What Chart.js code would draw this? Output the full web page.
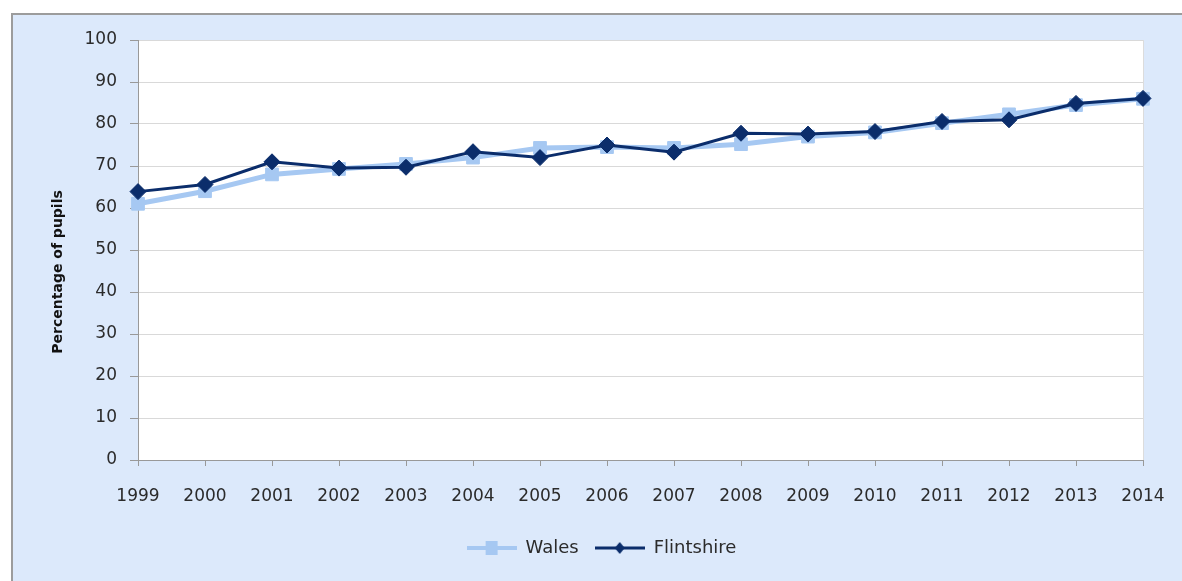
<!DOCTYPE html>
<html>
<head>
<meta charset="utf-8">
<script src="https://cdn.jsdelivr.net/npm/chart.js@4/dist/chart.umd.min.js"></script>
<style>
  html, body { margin: 0; padding: 0; background: #ffffff; overflow: hidden; }
  #frame { position: absolute; left: 11px; top: 13px; width: 1200px; height: 600px;
           background: #dce9fb; border-left: 2px solid #9c9c9c; border-top: 2px solid #9c9c9c; }
  #wrap { position: absolute; left: 0; top: 0; width: 1182px; height: 581px; }
</style>
</head>
<body>
<div id="frame"></div>
<div id="wrap"><canvas id="c" width="1182" height="581"></canvas></div>
<script>
const years = ['1999','2000','2001','2002','2003','2004','2005','2006','2007','2008','2009','2010','2011','2012','2013','2014'];
const wales = [61, 64, 68, 69.3, 70.5, 72, 74.3, 74.5, 74.3, 75.2, 77, 78, 80.2, 82.3, 84.5, 86];
const flintshire = [63.9, 65.6, 71, 69.5, 69.7, 73.4, 72, 75, 73.3, 77.8, 77.6, 78.2, 80.6, 81, 84.9, 86.1];
const yTicks = [0, 10, 20, 30, 40, 50, 60, 70, 80, 90, 100];
const seriesNames = ['Wales', 'Flintshire'];

const WALES_COLOR = '#a6c8f2';
const FLINT_COLOR = '#0b2d6b';
const TEXT_COLOR = '#2b2b2b';
const FONT = 'DejaVu Sans';

function legendImage(kind) {
  const cv = document.createElement('canvas');
  cv.width = 50; cv.height = 18;
  const g = cv.getContext('2d');
  if (kind === 'wales') {
    g.strokeStyle = WALES_COLOR; g.lineWidth = 4;
    g.beginPath(); g.moveTo(0, 9); g.lineTo(50, 9); g.stroke();
    g.fillStyle = WALES_COLOR; g.fillRect(19, 2, 12, 14);
  } else {
    g.strokeStyle = FLINT_COLOR; g.lineWidth = 3;
    g.beginPath(); g.moveTo(0, 9); g.lineTo(50, 9); g.stroke();
    g.fillStyle = FLINT_COLOR;
    g.beginPath(); g.moveTo(25, 3); g.lineTo(30, 9); g.lineTo(25, 15); g.lineTo(20, 9); g.closePath(); g.fill();
  }
  return cv;
}

const plotBg = {
  id: 'plotBg',
  beforeDraw(chart) {
    const a = chart.chartArea, ctx = chart.ctx;
    ctx.save();
    ctx.fillStyle = '#ffffff';
    ctx.fillRect(a.left, a.top, a.right - a.left, a.bottom - a.top);
    ctx.strokeStyle = '#dcdcdc'; ctx.lineWidth = 1;
    ctx.beginPath(); ctx.moveTo(a.right + 0.5, a.top); ctx.lineTo(a.right + 0.5, a.bottom); ctx.stroke();
    ctx.restore();
  },
  afterLayout(chart) {
    chart.legend.left += 30;
    chart.legend.right += 30;
  }
};

new Chart(document.getElementById('c'), {
  type: 'line',
  data: {
    labels: years,
    datasets: [
      {
        label: seriesNames[0], data: wales, order: 2,
        borderColor: WALES_COLOR, backgroundColor: WALES_COLOR, borderWidth: 5,
        pointStyle: 'rect', pointRadius: 9, pointBorderWidth: 1,
        pointBackgroundColor: WALES_COLOR, pointBorderColor: WALES_COLOR, tension: 0
      },
      {
        label: seriesNames[1], data: flintshire, order: 1,
        borderColor: FLINT_COLOR, backgroundColor: FLINT_COLOR, borderWidth: 3,
        pointStyle: 'rectRot', pointRadius: 8, pointBorderWidth: 1,
        pointBackgroundColor: FLINT_COLOR, pointBorderColor: FLINT_COLOR, tension: 0
      }
    ]
  },
  options: {
    responsive: false,
    devicePixelRatio: 1,
    animation: false,
    layout: { padding: { left: 0, top: 40, right: 39, bottom: 14 } },
    plugins: {
      tooltip: { enabled: false },
      legend: {
        position: 'bottom',
        labels: {
          usePointStyle: true,
          pointStyleWidth: 50,
          padding: 16,
          color: TEXT_COLOR,
          font: { family: FONT, size: 18 },
          generateLabels() {
            return [
              { text: seriesNames[0], pointStyle: legendImage('wales'), fillStyle: WALES_COLOR, strokeStyle: WALES_COLOR, lineWidth: 0, hidden: false, datasetIndex: 0, fontColor: TEXT_COLOR },
              { text: seriesNames[1], pointStyle: legendImage('flint'), fillStyle: FLINT_COLOR, strokeStyle: FLINT_COLOR, lineWidth: 0, hidden: false, datasetIndex: 1, fontColor: TEXT_COLOR }
            ];
          }
        }
      }
    },
    scales: {
      x: {
        offset: false,
        grid: { drawOnChartArea: false, drawTicks: true, tickLength: 6, tickColor: '#999999' },
        border: { color: '#999999', width: 1 },
        ticks: { color: TEXT_COLOR, font: { family: FONT, size: 17 }, padding: 20, maxRotation: 0, autoSkip: false },
        afterFit(scale) { scale.height = 63; scale.paddingRight = 0; scale.paddingLeft = 0; }
      },
      y: {
        min: 0, max: 100,
        afterBuildTicks(scale) { scale.ticks = yTicks.map(v => ({ value: v })); },
        grid: { color: '#d9d9d9', lineWidth: 1, tickLength: 8, tickColor: '#999999' },
        border: { color: '#999999', width: 1 },
        ticks: { color: TEXT_COLOR, font: { family: FONT, size: 17 }, padding: 13 },
        title: {
          display: true,
          text: 'Percentage of pupils\u00a0\u00a0\u00a0\u00a0\u00a0\u00a0\u00a0\u00a0\u00a0',
          color: '#111111',
          font: { family: FONT, size: 14, weight: 'bold' },
          padding: { top: 50, bottom: 0 }
        },
        afterFit(scale) { scale.width = 138; }
      }
    }
  },
  plugins: [plotBg]
});
</script>
</body>
</html>
